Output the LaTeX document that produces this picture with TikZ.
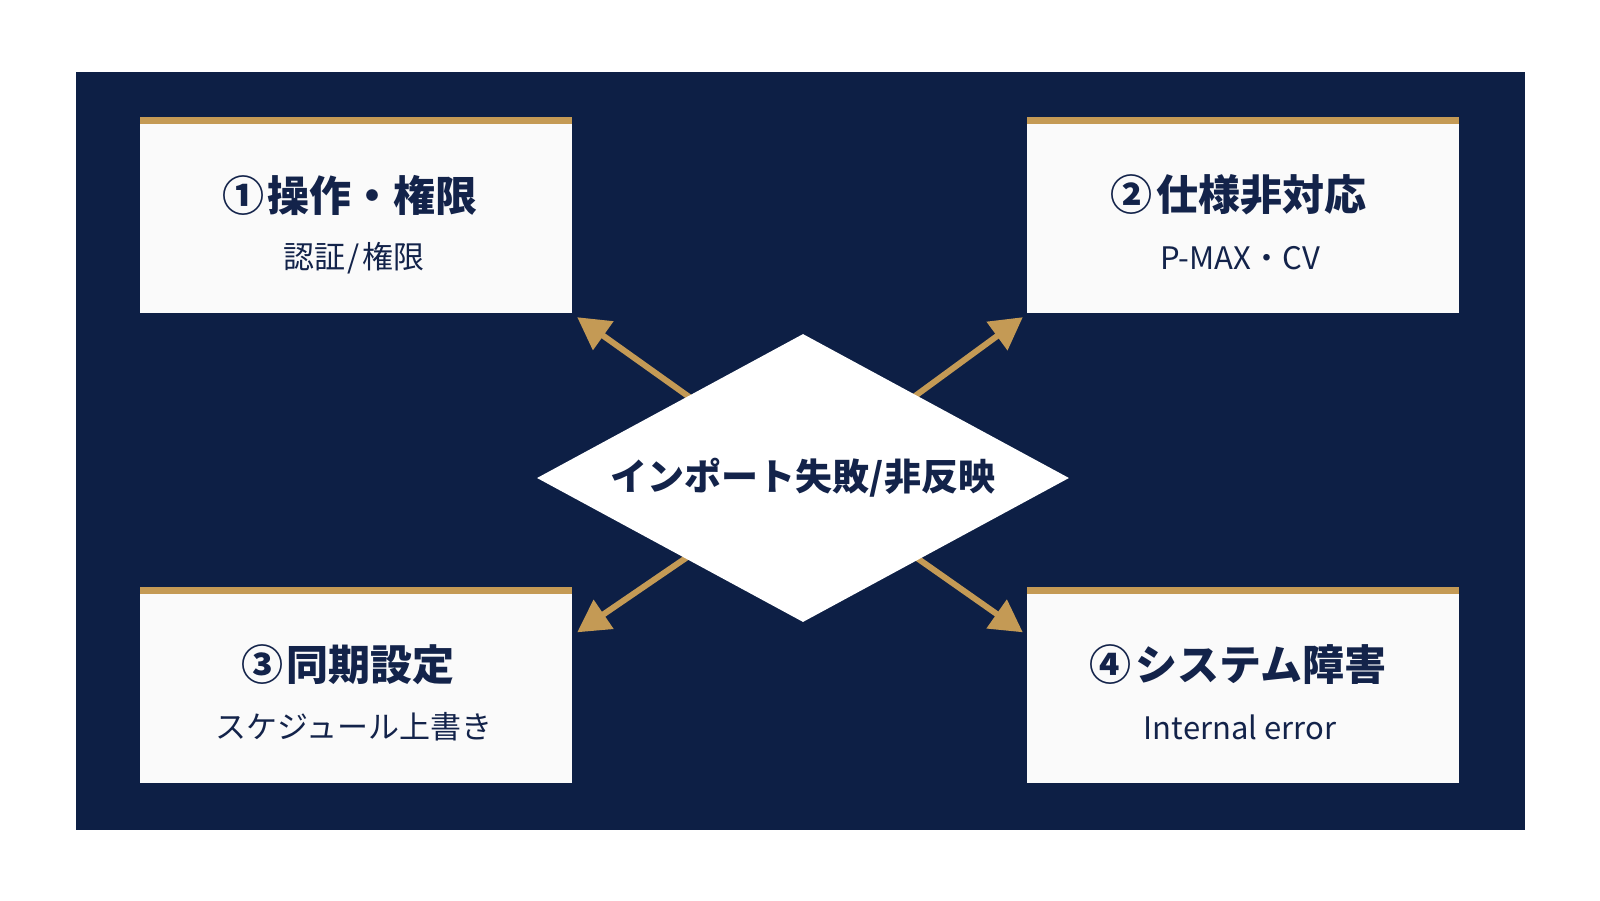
\documentclass[tikz,border=0pt]{standalone}
\usepackage{fontspec}
\setmainfont{Noto Sans CJK JP}
\usetikzlibrary{shapes.geometric,arrows.meta,calc}
\definecolor{navy}{HTML}{0D1F45}
\definecolor{ink}{HTML}{13234A}
\definecolor{gold}{HTML}{C49A55}
\definecolor{paper}{HTML}{FAFAFA}
\pgfdeclarelayer{back}
\pgfsetlayers{back,main}
\tikzset{
  card/.style={rectangle, fill=paper, minimum width=432pt, minimum height=196pt, inner sep=0pt,
    path picture={\fill[gold] (path picture bounding box.north west) rectangle ([yshift=-7pt]path picture bounding box.north east);}},
  cardtitle/.style={text=ink, font=\fontsize{42}{50}\selectfont\bfseries, inner sep=0pt},
  cardsub/.style={text=ink, font=\fontsize{31}{37}\selectfont, inner sep=0pt},
  hub/.style={diamond, aspect=1.85, fill=white, minimum width=532pt, minimum height=288pt, inner sep=0pt,
    text=ink, font=\fontsize{37}{44}\selectfont\bfseries},
  goldarrow/.style={draw=gold, line width=6pt, -{Triangle[length=32pt,width=34pt]}}
}
\begin{document}
\begin{tikzpicture}[x=1pt,y=-1pt]
\useasboundingbox (0,0) rectangle (1600,900);
% cards
\node[card] (b1) at (356,215) {};
\node[card] (b2) at (1243,215) {};
\node[card] (b3) at (356,684.5) {};
\node[card] (b4) at (1243,684.5) {};
\node[cardtitle] (t1) at (350,195) {①\kern4pt操作・権限};
\node[cardsub]   (s1) at (354,258) {認証\kern2pt/\kern2pt権限};
\node[cardtitle] (t2) at (1238,195) {②\kern4pt仕様非対応};
\node[cardsub]   (s2) at (1240,258) {P-MAX・CV};
\node[cardtitle] (t3) at (348,665) {③\kern4pt同期設定};
\node[cardsub]   (s3) at (354,727) {スケジュール上書き};
\node[cardtitle] (t4) at (1238,665) {④\kern4ptシステム障害};
\node[cardsub]   (s4) at (1240,727) {Internal error};
% hub
\node[hub] (d) at (803,478) {インポート失敗/非反映};
% arrow tips
\coordinate (p1) at ($(b1.south east)+(5,4)$);
\coordinate (p2) at ($(b2.south west)+(-4,4)$);
\coordinate (p3) at ($(b3.north east)+(5,46)$);
\coordinate (p4) at ($(b4.north west)+(-4,46)$);
\begin{pgfonlayer}{back}
\fill[white] (0,0) rectangle (1600,900);
\fill[navy] (76,71.5) rectangle (1525,830);
\draw[goldarrow] (d.center) -- (p1);
\draw[goldarrow] (d.center) -- (p2);
\draw[goldarrow] (d.center) -- (p3);
\draw[goldarrow] (d.center) -- (p4);
\end{pgfonlayer}
\end{tikzpicture}
\end{document}
